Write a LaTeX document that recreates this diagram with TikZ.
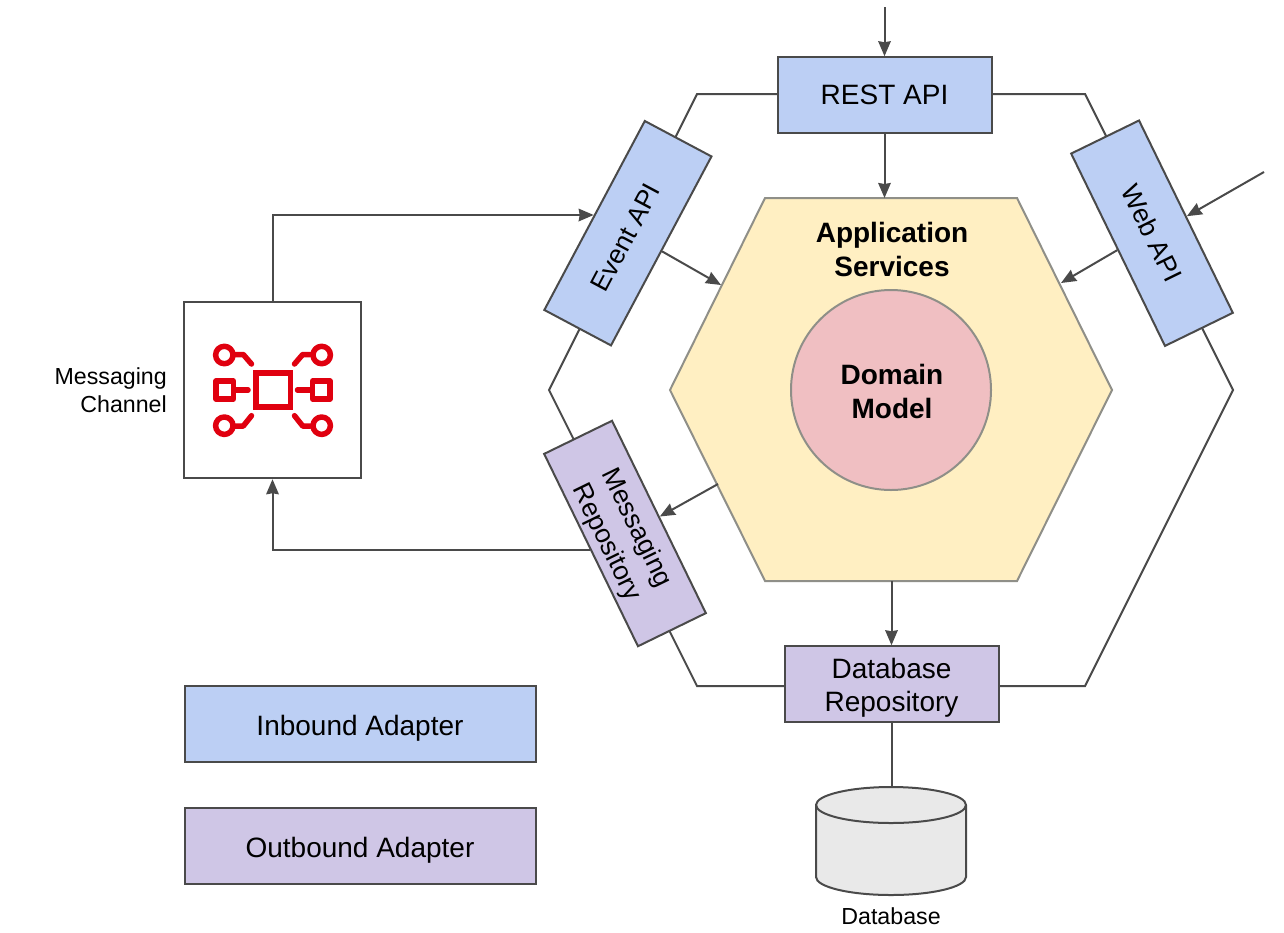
\documentclass[tikz,border=0pt]{standalone}
\usepackage{fontspec}
\setmainfont{Liberation Sans}
\usetikzlibrary{arrows.meta}
\definecolor{inb}{HTML}{BCCFF4}
\definecolor{outb}{HTML}{CFC6E6}
\definecolor{appc}{HTML}{FFEFC2}
\definecolor{domc}{HTML}{F0BFC2}
\definecolor{ln}{HTML}{4A4A4A}
\definecolor{hexln}{HTML}{8F8F88}
\definecolor{dbc}{HTML}{E9E9E9}
\definecolor{icon}{HTML}{E0000F}
\newcommand{\topstrut}{\rule{0pt}{28pt}}
\tikzset{
  conn/.style={draw=ln,line width=2pt},
  arr/.style={conn,-{Stealth[length=15pt,width=12.5pt,inset=1pt]}},
  adapter/.style={draw=ln,line width=2pt,minimum width=214pt,minimum height=75.5pt,inner sep=0pt,align=center,text=black,
    font=\fontsize{28}{33.5}\selectfont},
  inbound/.style={adapter,fill=inb},
  outbound/.style={adapter,fill=outb},
  tilted/.style={font=\fontsize{26.5}{33.5}\selectfont},
  legendbox/.style={minimum width=351pt},
  label/.style={align=center,text=black,inner sep=0pt,font=\fontsize{23.2}{28}\selectfont},
  boldlabel/.style={align=center,text=black,inner sep=0pt,font=\fontsize{28}{34}\selectfont\bfseries},
  iconline/.style={draw=icon,line width=5.5pt,line cap=round,line join=round},
}
\begin{document}
\begin{tikzpicture}[x=1pt,y=-1pt]
\useasboundingbox (0,0) rectangle (1284,932);
\fill[white] (0,0) rectangle (1284,932);
% outer hexagon
\coordinate (oa) at (697,94); \coordinate (ob) at (1085,94); \coordinate (oc) at (1233,390);
\coordinate (od) at (1085,686); \coordinate (oe) at (697,686); \coordinate (of) at (549,390);
\draw[draw=ln,line width=2pt,line join=miter] (oa) -- (ob) -- (oc) -- (od) -- (oe) -- (of) -- cycle;
% application hexagon
\coordinate (ha) at (765,198); \coordinate (hb) at (1017,198); \coordinate (hc) at (1112,390);
\coordinate (hd) at (1017,581); \coordinate (he) at (765,581); \coordinate (hf) at (670,390);
\draw[draw=hexln,line width=2pt,fill=appc] (ha) -- (hb) -- (hc) -- (hd) -- (he) -- (hf) -- cycle;
\node[draw=hexln,line width=2pt,fill=domc,circle,minimum size=200pt,inner sep=0pt] (dom) at (891,390) {};
\node[boldlabel] (domt) at (892,391.5) {Domain\\Model};
\node[boldlabel] (appt) at (892,249.5) {Application\\Services};
% adapters
\node[inbound] (rest) at (884.5,95) {REST API};
\node[inbound,tilted,rotate=62] (evt) at (627.9,233.2) {\mbox{Event API\kern10pt}};
\node[inbound,tilted,rotate=-64] (web) at (1152,233.2) {Web API};
\node[outbound,tilted,rotate=-64] (msg) at (625,533.5) {\topstrut Messaging\\Repository};
\node[outbound] (dbr) at (891.5,684) {\topstrut Database\\Repository};
\node[inbound,legendbox] (lin) at (360,724) {\topstrut Inbound Adapter};
\node[outbound,legendbox] (lout) at (360,846) {\topstrut Outbound Adapter};
% channel
\node[draw=ln,line width=2pt,fill=white,minimum size=176.5pt,inner sep=0pt] (chan) at (272.5,390) {};
\node[label,align=right,anchor=east] (chant) at (167,390.5) {Messaging\\Channel};
% icon
\draw[iconline,line width=5.8pt,line join=miter] (255.6,372.9) rectangle (290.4,407.1);
\draw[iconline,line join=round] (216,381) rectangle (233.4,399);
\draw[iconline,line join=round] (312.6,381) rectangle (330,399);
\draw[iconline] (236,390) -- (248,390);
\draw[iconline] (297.5,390) -- (310,390);
\draw[iconline] (224.3,355) circle[radius=8.7pt];
\draw[iconline] (321.7,355) circle[radius=8.7pt];
\draw[iconline] (224.3,425.7) circle[radius=8.7pt];
\draw[iconline] (321.7,425.7) circle[radius=8.7pt];
\draw[iconline] (235,354.5) -- (243.3,354.5) -- (251.5,364);
\draw[iconline] (310.7,354.5) -- (302.7,354.5) -- (294.5,364);
\draw[iconline] (235,426) -- (243.3,426) -- (251.5,415.7);
\draw[iconline] (310.7,426) -- (302.7,426) -- (294.5,415.7);
% database
\draw[draw=ln,line width=2pt,fill=dbc] (816,805) -- (816,877) arc[start angle=180,end angle=360,x radius=75pt,y radius=18pt] -- (966,805) arc[start angle=0,end angle=180,x radius=75pt,y radius=18pt] -- cycle;
\draw[draw=ln,line width=2pt] (816,805) arc[start angle=180,end angle=360,x radius=75pt,y radius=18pt];
\coordinate (dbtop) at (891.5,787);
\node[label] (dbt) at (891,916.5) {Database};
% connectors
\coordinate (ct) at (884.5,7);
\coordinate (cr) at (1264,172);
\coordinate (hrest) at (884.5,198);
\coordinate (hbot) at (891.5,581);
\coordinate (hevt) at (721,285);
\coordinate (hweb) at (1061,283);
\coordinate (hmsg) at (718,484);
\draw[arr] (ct) -- (rest.north);
\draw[arr] (rest.south) -- (hrest);
\draw[arr] (evt.south) -- (hevt);
\draw[arr] (web.south) -- (hweb);
\draw[arr] (cr) -- (web.north);
\draw[arr] (hmsg) -- (msg.north);
\draw[arr] (hbot) -- (dbr.north);
\draw[conn] (dbr.south) -- (dbtop);
\draw[arr] (chan.north) |- (evt.north);
\draw[arr] (msg.south) -| (chan.south);
\end{tikzpicture}
\end{document}
